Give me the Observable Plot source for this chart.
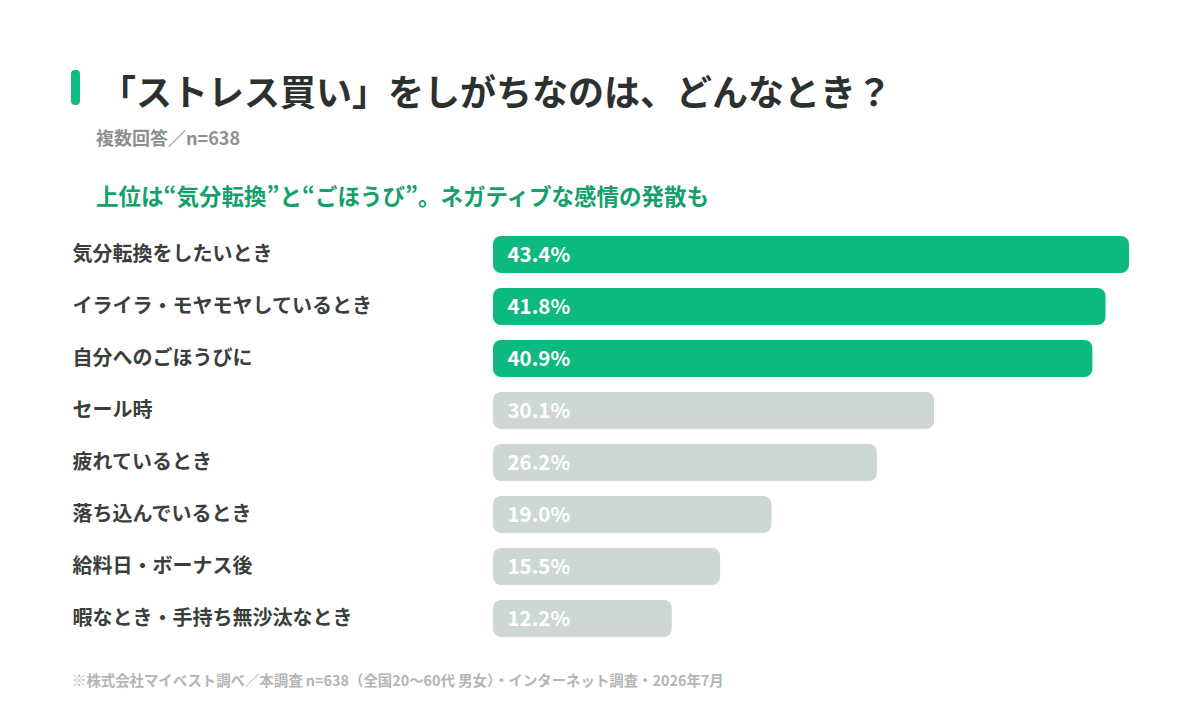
<!DOCTYPE html>
<html lang="ja">
<head>
<meta charset="utf-8">
<script src="https://cdn.jsdelivr.net/npm/d3@7"></script>
<script src="https://cdn.jsdelivr.net/npm/@observablehq/plot@0.6"></script>
<style>
  html, body { margin: 0; padding: 0; background: #fff; }
  body { font-family: "Noto Sans CJK JP", "Noto Sans", sans-serif; }
  #page { position: relative; width: 1200px; height: 713px; overflow: hidden; }
  .accent { position: absolute; left: 71px; top: 70px; width: 9px; height: 35px; border-radius: 4px; background: #12bb82; }
  .title { position: absolute; left: 100px; top: 64px; font-size: 36px; font-weight: 700; color: #2b312e; line-height: 52px; white-space: nowrap; }
  .note { position: absolute; left: 96px; top: 125px; font-size: 18px; font-weight: 700; color: #8c918e; line-height: 24px; white-space: nowrap; }
  .headline { position: absolute; left: 96px; top: 179px; font-size: 22.5px; font-weight: 700; color: #13a06b; line-height: 32px; white-space: nowrap; }
  .source { position: absolute; left: 72px; top: 669px; font-size: 14.4px; font-weight: 700; color: #b3b6b4; line-height: 22px; white-space: nowrap; }
  #chart { position: absolute; left: 0; top: 227px; }
</style>
</head>
<body>
<div id="page">
  <div class="accent"></div>
  <div class="title">「ストレス買い」をしがちなのは、どんなとき？</div>
  <div class="note">複数回答／n=638</div>
  <div class="headline">上位は“気分転換”と“ごほうび”。ネガティブな感情の発散も</div>
  <div id="chart"></div>
  <div class="source">※株式会社マイベスト調べ／本調査 n=638（全国20〜60代 男女）・インターネット調査・2026年7月</div>
</div>
<script>
// Reasons for "stress shopping" (multiple answers, %)
const reasons = [
  "気分転換をしたいとき",
  "イライラ・モヤモヤしているとき",
  "自分へのごほうびに",
  "セール時",
  "疲れているとき",
  "落ち込んでいるとき",
  "給料日・ボーナス後",
  "暇なとき・手持ち無沙汰なとき"
];
const shares = [43.4, 41.8, 40.9, 30.1, 26.2, 19.0, 15.5, 12.2];
// the top three answers are highlighted
const highlighted = [true, true, true, false, false, false, false, false];

const rows = reasons.map((reason, i) => ({reason, share: shares[i], top: highlighted[i]}));

const chart = Plot.plot({
  width: 1200,
  height: 418,
  marginLeft: 493,
  marginRight: 71,
  marginTop: 0,
  marginBottom: 0,
  style: {fontFamily: "'Noto Sans CJK JP', sans-serif", background: "transparent"},
  x: {domain: [0, 43.4], axis: null},
  y: {domain: reasons, paddingInner: 0.29, paddingOuter: 0.145, axis: null},
  marks: [
    Plot.barX(rows, {
      x: "share",
      y: "reason",
      rx: 8,
      fill: d => d.top ? "#0cba81" : "#cdd8d2"
    }),
    Plot.text(rows, {
      x: 0,
      y: "reason",
      text: d => d.share.toFixed(1) + "%",
      dx: 14,
      textAnchor: "start",
      fill: "#ffffff",
      fontSize: 20.5,
      fontWeight: 700
    }),
    Plot.text(rows, {
      y: "reason",
      text: "reason",
      frameAnchor: "left",
      dx: -421,
      textAnchor: "start",
      fill: "#3a3f3c",
      fontSize: 20,
      fontWeight: 700
    })
  ]
});
document.getElementById("chart").appendChild(chart);
</script>
</body>
</html>
